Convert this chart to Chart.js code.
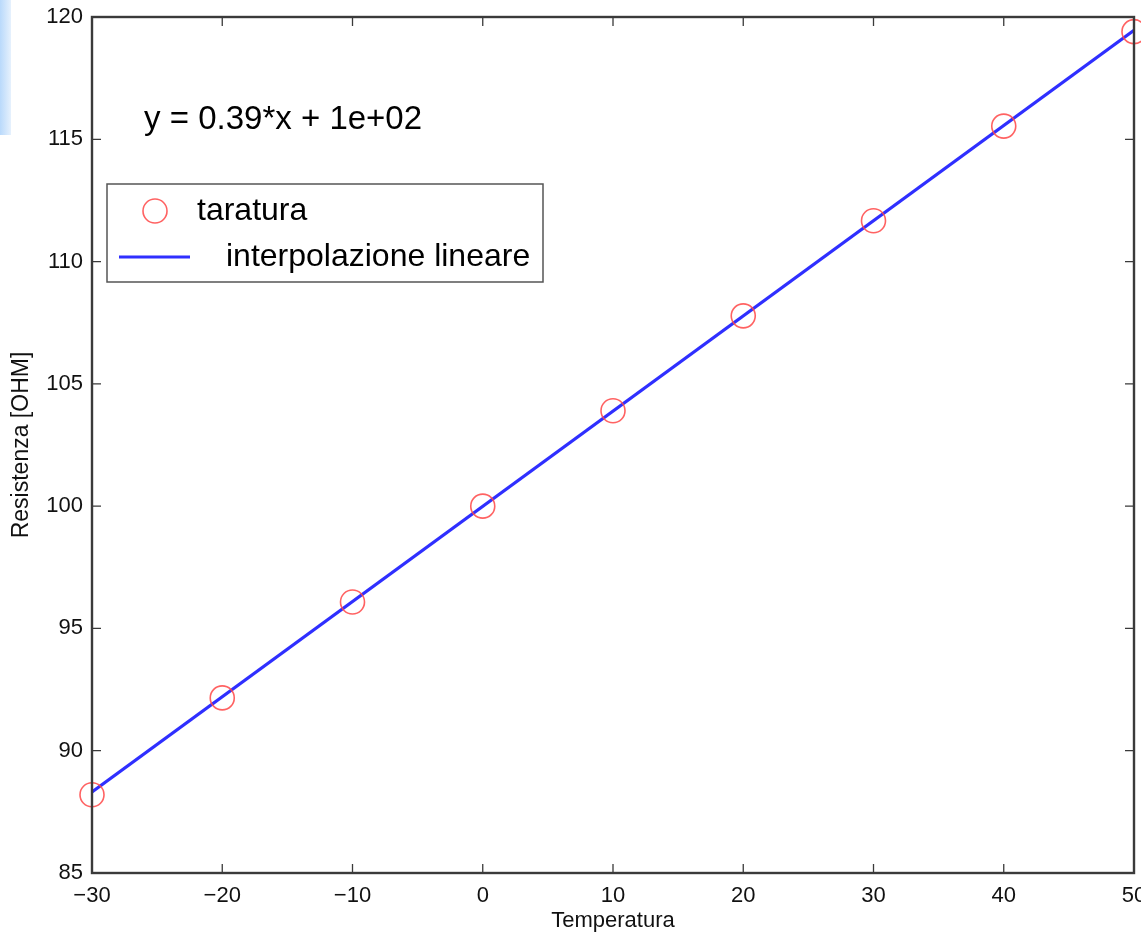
<!DOCTYPE html>
<html>
<head>
<meta charset="utf-8">
<script src="https://cdn.jsdelivr.net/npm/chart.js@4.4.1/dist/chart.umd.min.js"></script>
<style>
    html, body { margin: 0; padding: 0; background: #fff; }
    #wrap { position: relative; width: 1141px; height: 935px; }
    #strip { position: absolute; left: 0; top: 0; width: 11px; height: 135px;
             background: linear-gradient(to right, #b9d9fb, #e6f1fd); }
    canvas { position: absolute; left: 0; top: 0; }
</style>
</head>
<body>
<div id="wrap">
    <div id="strip"></div>
    <canvas id="chart" width="1141" height="935"></canvas>
</div>
<script>
// Calibration data (temperature -> resistance)
const temperature = [-30, -20, -10, 0, 10, 20, 30, 40, 50];
const resistance = [88.2, 92.16, 96.08, 100.0, 103.9, 107.78, 111.67, 115.54, 119.4];

// Fitted line endpoints
const fitX = [-30, 50];
const fitY = [88.31, 119.46];

const xTicks = [-30, -20, -10, 0, 10, 20, 30, 40, 50];
const yTicks = [85, 90, 95, 100, 105, 110, 115, 120];

const equationText = 'y = 0.39*x + 1e+02';
const seriesLabels = ['taratura', 'interpolazione lineare'];

const FONT = '"Liberation Sans", Arial, Helvetica, sans-serif';
const RED = 'rgba(255, 70, 70, 0.85)';
const BLUE = '#2f2fff';
const AXIS = '#3a3a3a';

// Inward tick marks on all four sides, box, equation and legend
const boxPlugin = {
    id: 'boxPlugin',
    afterDatasetsDraw(chart) {
        const ctx = chart.ctx;
        const a = chart.chartArea;
        const xs = chart.scales.x, ys = chart.scales.y;
        const len = 9;
        ctx.save();
        ctx.strokeStyle = AXIS;
        ctx.lineWidth = 1.3;
        ctx.beginPath();
        xTicks.forEach(function(v) {
            const px = xs.getPixelForValue(v);
            ctx.moveTo(px, a.bottom); ctx.lineTo(px, a.bottom - len);
            ctx.moveTo(px, a.top); ctx.lineTo(px, a.top + len);
        });
        yTicks.forEach(function(v) {
            const py = ys.getPixelForValue(v);
            ctx.moveTo(a.left, py); ctx.lineTo(a.left + len, py);
            ctx.moveTo(a.right, py); ctx.lineTo(a.right - len, py);
        });
        ctx.stroke();

        ctx.lineWidth = 2.4;
        ctx.strokeRect(a.left, a.top, a.right - a.left, a.bottom - a.top);

        // equation label
        ctx.fillStyle = '#000';
        ctx.font = '33px ' + FONT;
        ctx.textBaseline = 'middle';
        ctx.textAlign = 'left';
        ctx.fillText(equationText, xs.getPixelForValue(-26), ys.getPixelForValue(115.8));

        // legend box
        const lx = 107, ly = 184, lw = 436, lh = 98;
        ctx.fillStyle = '#fff';
        ctx.fillRect(lx, ly, lw, lh);
        ctx.strokeStyle = '#555';
        ctx.lineWidth = 1.5;
        ctx.strokeRect(lx, ly, lw, lh);

        ctx.strokeStyle = RED;
        ctx.lineWidth = 1.6;
        ctx.beginPath();
        ctx.arc(155, 211, 12, 0, Math.PI * 2);
        ctx.stroke();

        ctx.strokeStyle = BLUE;
        ctx.lineWidth = 3;
        ctx.beginPath();
        ctx.moveTo(119, 257); ctx.lineTo(190, 257);
        ctx.stroke();

        ctx.fillStyle = '#000';
        ctx.font = '32px ' + FONT;
        ctx.fillText(seriesLabels[0], 197, 211);
        ctx.fillText(seriesLabels[1], 226, 257);
        ctx.restore();
    }
};

function initChart() {
    const ctx = document.getElementById('chart').getContext('2d');
    new Chart(ctx, {
        type: 'scatter',
        data: {
            datasets: [{
                label: seriesLabels[1],
                type: 'line',
                data: fitX.map(function(x, i) { return {x: x, y: fitY[i]}; }),
                borderColor: BLUE,
                borderWidth: 3.2,
                pointRadius: 0,
                fill: false,
                order: 1
            }, {
                label: seriesLabels[0],
                data: temperature.map(function(t, i) { return {x: t, y: resistance[i]}; }),
                pointStyle: 'circle',
                pointRadius: 12,
                borderWidth: 1.6,
                borderColor: RED,
                backgroundColor: 'rgba(0,0,0,0)',
                clip: false,
                order: 0
            }]
        },
        options: {
            responsive: false,
            animation: false,
            layout: { autoPadding: false, padding: { left: 0, right: 7, top: 17, bottom: 0 } },
            plugins: {
                legend: { display: false },
                tooltip: { enabled: false }
            },
            scales: {
                x: {
                    type: 'linear',
                    min: -30,
                    max: 50,
                    afterBuildTicks: function(s) { s.ticks = xTicks.map(function(v) { return {value: v}; }); },
                    afterFit: function(s) { s.height = 62; s.paddingLeft = 0; s.paddingRight = 0; },
                    grid: { display: false, drawTicks: false },
                    border: { display: false },
                    ticks: {
                        padding: 10,
                        color: '#111',
                        font: { family: FONT, size: 22 },
                        maxRotation: 0,
                        autoSkip: false,
                        callback: function(v) { return String(v).replace('-', '\u2212'); }
                    },
                    title: {
                        display: true,
                        text: 'Temperatura',
                        color: '#111',
                        font: { family: FONT, size: 22 },
                        padding: { top: 0, bottom: 1 }
                    }
                },
                y: {
                    min: 85,
                    max: 120,
                    afterBuildTicks: function(s) { s.ticks = yTicks.map(function(v) { return {value: v}; }); },
                    afterFit: function(s) { s.width = 92; s.paddingTop = 0; s.paddingBottom = 0; },
                    grid: { display: false, drawTicks: false },
                    border: { display: false },
                    ticks: {
                        padding: 9,
                        color: '#111',
                        font: { family: FONT, size: 22 }
                    },
                    title: {
                        display: true,
                        text: 'Resistenza [OHM]',
                        color: '#111',
                        font: { family: FONT, size: 23 },
                        padding: { top: 8, bottom: 0 }
                    }
                }
            }
        },
        plugins: [boxPlugin]
    });
}

document.addEventListener('DOMContentLoaded', initChart);
</script>
</body>
</html>
